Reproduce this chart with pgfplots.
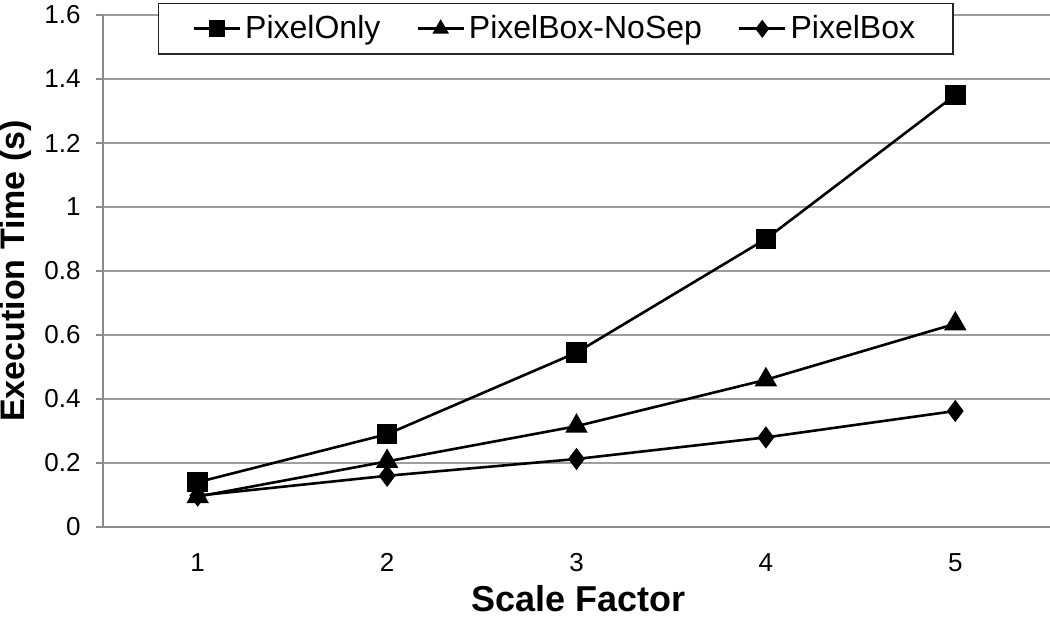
\documentclass[border=0pt]{standalone}
\usepackage{fontspec}
\setmainfont{Liberation Sans}
\usepackage{pgfplots}
\pgfplotsset{compat=1.18}
\definecolor{gridgray}{gray}{0.62}
\definecolor{axgray}{gray}{0.55}
\begin{document}
\begin{tikzpicture}
\path[use as bounding box] (-51.5pt,-46pt) rectangle (473.5pt,263.5pt);
\begin{axis}[
  at={(0,0)}, anchor=south west,
  scale only axis,
  width=473.5pt, height=256pt,
  xmin=0.5, xmax=5.5, ymin=0, ymax=1.6,
  xtick={1,2,3,4,5},
  ytick={0,0.2,0.4,0.6,0.8,1,1.2,1.4,1.6},
  /pgf/number format/assume math mode=true,
  /pgf/number format/fixed,
  axis lines*=left,
  axis line style={axgray, line width=0.7pt, -},
  ymajorgrids,
  grid style={gridgray, line width=0.7pt},
  tick align=outside,
  ytick style={axgray, line width=0.7pt},
  major tick length=3.5pt,
  xtick style={draw=none},
  ticklabel style={font=\fontsize{13}{15}\selectfont},
  xticklabel style={anchor=base, yshift=-19pt},
  yticklabel style={anchor=east, inner sep=0pt, xshift=-7.5pt},
  xlabel={Scale Factor},
  ylabel={Execution Time (s)},
  xlabel style={font=\fontsize{18}{21}\selectfont\bfseries, at={(axis description cs:0.502,-0.166)}, anchor=base},
  ylabel style={font=\fontsize{17}{20}\selectfont\bfseries, at={(axis description cs:-0.083,0.50)}, anchor=base, rotate=0},
  legend columns=3,
  legend style={at={(axis description cs:0.058,1.0234)}, anchor=north west,
    draw=black!85, line width=0.7pt, fill=white,
    font=\fontsize{16}{18}\selectfont,
    inner xsep=17pt, inner ysep=4pt,
    nodes={inner xsep=2pt, inner ysep=2pt},
    /tikz/every even column/.append style={column sep=16pt},
    /tikz/every odd column/.append style={column sep=0pt}},
  legend image code/.code={\draw[#1, mark size=3.5pt, mark repeat=2, mark phase=2] plot coordinates {(0pt,0pt) (11.5pt,0pt) (23pt,0pt)};},
]
\addplot[black, line width=1.3pt, mark=square*, mark size=4.5pt, mark options={solid, fill=black}] coordinates {(1,0.14) (2,0.29) (3,0.545) (4,0.90) (5,1.35)};
\addlegendentry{PixelOnly}
\addplot[black, line width=1.3pt, mark=triangle*, mark size=5.2pt, mark options={solid, fill=black}] coordinates {(1,0.095) (2,0.205) (3,0.315) (4,0.46) (5,0.635)};
\addlegendentry{PixelBox-NoSep}
\addplot[black, line width=1.3pt, mark=diamond*, mark size=4.5pt, mark options={solid, fill=black}] coordinates {(1,0.098) (2,0.16) (3,0.2125) (4,0.28) (5,0.3625)};
\addlegendentry{PixelBox}
\end{axis}
\end{tikzpicture}
\end{document}
